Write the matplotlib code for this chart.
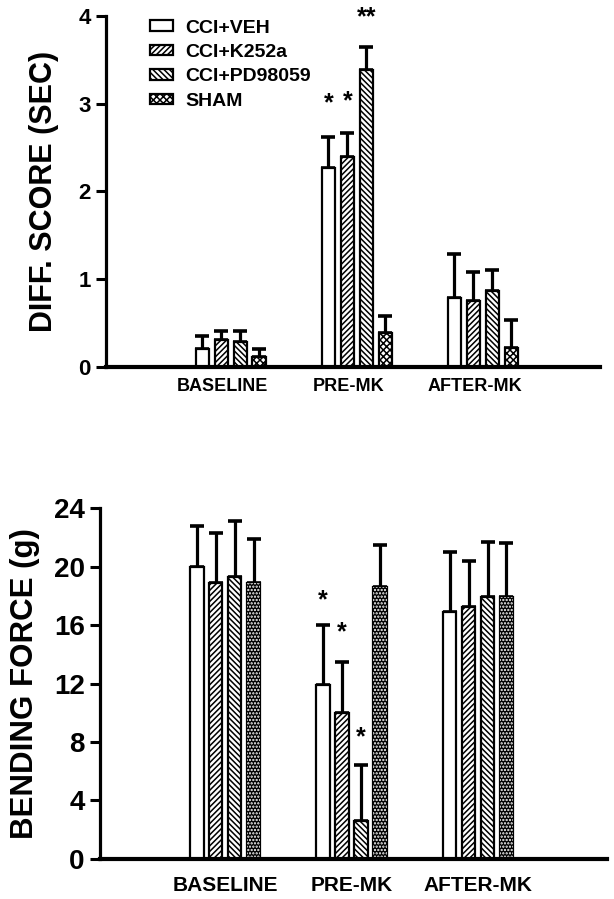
import numpy as np
import matplotlib
matplotlib.use('Agg')
import matplotlib.pyplot as plt

plt.rcParams['font.family'] = ['Liberation Sans', 'DejaVu Sans']
plt.rcParams['font.weight'] = 'bold'
plt.rcParams['hatch.linewidth'] = 1.1

# data
groups = ['BASELINE', 'PRE-MK', 'AFTER-MK']
series = ['CCI+VEH', 'CCI+K252a', 'CCI+PD98059', 'SHAM']

# top panel: difference score (sec)
diff_veh = [0.20, 2.27, 0.79]
diff_k252a = [0.31, 2.39, 0.75]
diff_pd = [0.28, 3.38, 0.87]
diff_sham = [0.11, 0.39, 0.22]
diff_veh_err = [0.15, 0.35, 0.50]
diff_k252a_err = [0.10, 0.28, 0.33]
diff_pd_err = [0.13, 0.27, 0.23]
diff_sham_err = [0.09, 0.19, 0.32]

# bottom panel: bending force (g)
force_veh = [20.0, 11.9, 16.9]
force_k252a = [18.9, 10.0, 17.2]
force_pd = [19.3, 2.6, 17.9]
force_sham = [18.9, 18.6, 17.9]
force_veh_err = [2.8, 4.1, 4.1]
force_k252a_err = [3.4, 3.5, 3.2]
force_pd_err = [3.8, 3.8, 3.8]
force_sham_err = [3.0, 2.9, 3.7]

# significance marks: (group, series, y, text)
diff_marks = [(1, 0, 3.0, '*'), (1, 1, 3.03, '*'), (1, 2, 3.98, '**')]
force_marks = [(1, 0, 17.7, '*'), (1, 1, 15.5, '*'), (1, 2, 8.3, '*')]


def draw_panel(ax, values, errors, marks, dark_sham, width, step):
    x = np.arange(len(groups))
    offsets = (np.arange(4) - 1.5) * step
    hatches = ['', '//////', '\\\\\\\\\\\\', 'xxxxx']
    handles = []
    for i in range(4):
        xs = x + offsets[i]
        if i == 3 and dark_sham:
            b = ax.bar(xs, values[i], width, color='black', edgecolor='black',
                       linewidth=1.6, zorder=2)
            ax.bar(xs, values[i], width, facecolor='none', edgecolor='white',
                   linewidth=0, hatch='.....', zorder=2.5)
        else:
            b = ax.bar(xs, values[i], width, color='white', edgecolor='black',
                       linewidth=1.6, hatch=hatches[i], zorder=2)
        handles.append(b)
        ax.errorbar(xs, values[i], yerr=[np.zeros(3), errors[i]], fmt='none',
                    ecolor='black', elinewidth=2.3, capsize=5, capthick=2.6,
                    zorder=1)
    for g, s, y, t in marks:
        ax.text(x[g] + offsets[s], y, t, ha='center', va='center',
                fontsize=18, fontweight='bold')
    for side in ['top', 'right']:
        ax.spines[side].set_visible(False)
    ax.spines['left'].set_linewidth(2.3)
    ax.spines['bottom'].set_linewidth(3)
    ax.tick_params(axis='y', direction='out', length=7, width=2.2)
    ax.tick_params(axis='x', length=0)
    return handles


fig = plt.figure(figsize=(6.14, 8.99), dpi=100)

ax1 = fig.add_axes([0.1726, 0.5918, 0.8046, 0.3904])
h = draw_panel(ax1,
               [diff_veh, diff_k252a, diff_pd, diff_sham],
               [diff_veh_err, diff_k252a_err, diff_pd_err, diff_sham_err],
               diff_marks, False, 0.105, 0.15)
ax1.set_xlim(-0.99, 2.93)
ax1.set_ylim(0, 4)
ax1.set_yticks([0, 1, 2, 3, 4])
ax1.set_xticks(np.arange(len(groups)) - 0.065)
ax1.set_xticklabels(groups, fontsize=13, fontweight='bold')
ax1.tick_params(axis='x', pad=8)
ax1.tick_params(axis='y', labelsize=16, pad=4)
ax1.set_ylabel('DIFF. SCORE (SEC)', fontsize=22, fontweight='bold', labelpad=14)
ax1.legend(h, series, loc='upper left', bbox_to_anchor=(0.089, 0.99),
           frameon=False, fontsize=14, handlelength=1.2, handleheight=0.45,
           labelspacing=0.38, handletextpad=0.6, borderpad=0,
           borderaxespad=0)

ax2 = fig.add_axes([0.1629, 0.0445, 0.8257, 0.3904])
draw_panel(ax2,
           [force_veh, force_k252a, force_pd, force_sham],
           [force_veh_err, force_k252a_err, force_pd_err, force_sham_err],
           force_marks, True, 0.107, 0.15)
ax2.set_xlim(-0.99, 3.02)
ax2.set_ylim(0, 24)
ax2.set_yticks([0, 4, 8, 12, 16, 20, 24])
ax2.set_xticks(np.arange(len(groups)))
ax2.set_xticklabels(groups, fontsize=15, fontweight='bold')
ax2.tick_params(axis='x', pad=12)
ax2.tick_params(axis='y', labelsize=20, pad=4)
ax2.set_ylabel('BENDING FORCE (g)', fontsize=22.5, fontweight='bold', labelpad=10)

fig.savefig('out.png', dpi=100)
